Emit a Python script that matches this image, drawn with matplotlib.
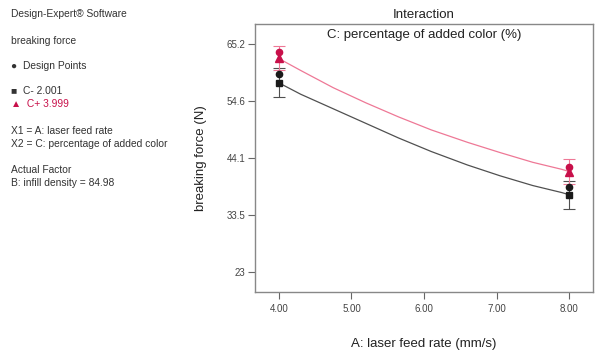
import matplotlib
matplotlib.use("Agg")
import matplotlib.pyplot as plt

plt.rcParams['font.family'] = ['Liberation Sans', 'DejaVu Sans']

# predicted breaking force along laser feed rate, for low / high color level
feed_rate = [4.0, 4.3, 4.75, 5.2, 5.65, 6.1, 6.6, 7.05, 7.5, 7.9, 8.0]
force_c_low = [58.0, 55.9, 53.2, 50.5, 47.8, 45.3, 42.8, 40.8, 39.0, 37.7, 37.3]
force_c_high = [62.5, 60.3, 57.1, 54.3, 51.7, 49.3, 47.0, 45.1, 43.3, 42.0, 41.6]

# end points with LSD bars
end_rate = [4.0, 8.0]
end_c_low = [58.0, 37.3]
end_c_high = [62.6, 41.6]
lsd_c_low = [2.7, 2.6]
lsd_c_high = [2.3, 2.3]

# design points
design_c_low = [59.6, 38.8]
design_c_high = [63.7, 42.5]

y_ticks = [23, 33.5, 44.1, 54.6, 65.2]
y_tick_labels = ["23", "33.5", "44.1", "54.6", "65.2"]
x_ticks = [4, 5, 6, 7, 8]
x_tick_labels = ["4.00", "5.00", "6.00", "7.00", "8.00"]

red = "#c8104a"
red_line = "#ee7896"
dark = "#1a1a1a"
gray_line = "#505050"

fig = plt.figure(figsize=(5.96, 3.56), dpi=100)
ax = fig.add_axes([255 / 596, 64 / 356, 338 / 596, 268 / 356])

ax.plot(feed_rate, force_c_low, color=gray_line, lw=0.9, zorder=2)
ax.plot(feed_rate, force_c_high, color=red_line, lw=0.9, zorder=2)

ax.errorbar(end_rate, end_c_low, yerr=lsd_c_low, fmt='none', ecolor=gray_line,
            elinewidth=0.8, capsize=4.3, capthick=0.8, zorder=3)
ax.errorbar(end_rate, end_c_high, yerr=lsd_c_high, fmt='none', ecolor=red_line,
            elinewidth=0.8, capsize=4.3, capthick=0.8, zorder=3)

ax.plot(end_rate, end_c_low, 's', color=dark, ms=5, zorder=4)
ax.plot(end_rate, end_c_high, '^', color=red, ms=5.5, zorder=4)
ax.plot(end_rate, design_c_low, 'o', color=dark, ms=4.5, zorder=5)
ax.plot(end_rate, design_c_high, 'o', color=red, ms=4.5, zorder=5)

ax.set_xlim(3.67, 8.33)
ax.set_ylim(19.3, 68.9)
ax.set_xticks(x_ticks)
ax.set_xticklabels(x_tick_labels)
ax.set_yticks(y_ticks)
ax.set_yticklabels(y_tick_labels)
ax.tick_params(direction='out', length=5, width=0.8, color="#666666",
               labelsize=7, labelcolor="#444444")
ax.tick_params(axis='x', pad=4)
ax.tick_params(axis='y', pad=2)
for s in ax.spines.values():
    s.set_color("#888888")
    s.set_linewidth(1.0)

ax.set_xlabel("A: laser feed rate (mm/s)", fontsize=9.5, color="#222222", labelpad=17)
ax.set_ylabel("breaking force (N)", fontsize=9.5, color="#222222", labelpad=14)
fig.text(424 / 596, 1 - 15 / 356, "Interaction", ha='center', va='center',
         fontsize=9.5, color="#222222")
ax.text(0.5, 0.96, "C: percentage of added color (%)", transform=ax.transAxes,
        ha='center', va='center', fontsize=9.5, color="#222222")

# info panel on the left
info = [
    (14, "Design-Expert® Software", "#333333"),
    (41, "breaking force", "#333333"),
    (66, "●  Design Points", "#333333"),
    (91, "■  C- 2.001", "#333333"),
    (104, "▲  C+ 3.999", red),
    (131, "X1 = A: laser feed rate", "#333333"),
    (144, "X2 = C: percentage of added color", "#333333"),
    (170, "Actual Factor", "#333333"),
    (183, "B: infill density = 84.98", "#333333"),
]
for y, txt, col in info:
    fig.text(11 / 596, 1 - y / 356, txt, ha='left', va='center',
             fontsize=7.4, color=col)

fig.savefig("out.png", dpi=100)
